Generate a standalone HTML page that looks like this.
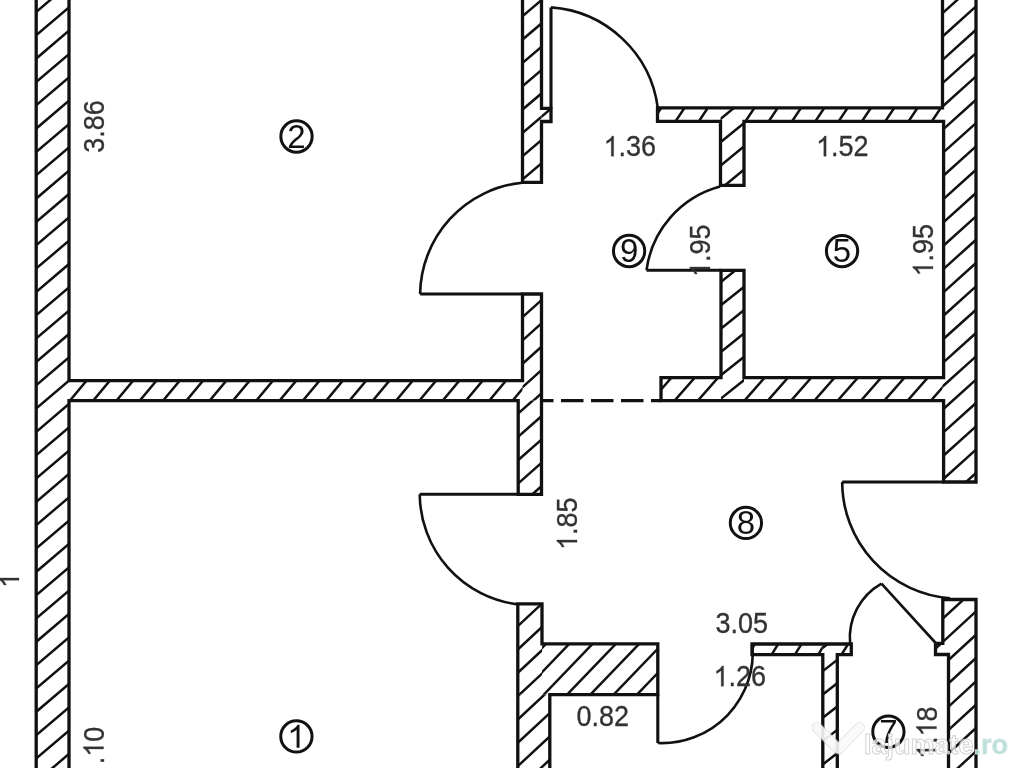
<!DOCTYPE html>
<html><head><meta charset="utf-8">
<style>
html,body{margin:0;padding:0;background:#fff;width:1024px;height:768px;overflow:hidden}
svg{display:block;filter:blur(0.35px)}
text{font-family:"Liberation Sans",sans-serif}
</style></head>
<body>
<svg width="1024" height="768" viewBox="0 0 1024 768">
<defs>
<clipPath id="c1"><rect x="36.2" y="-5" width="32.80" height="778.00"/></clipPath>
<clipPath id="c2"><rect x="69.0" y="380.7" width="453.50" height="19.90"/></clipPath>
<clipPath id="c3"><rect x="522.5" y="294" width="19.00" height="106.60"/></clipPath>
<clipPath id="c4"><rect x="518.2" y="400.6" width="23.30" height="93.70"/></clipPath>
<clipPath id="c5"><rect x="522.5" y="-5" width="19.00" height="187.30"/></clipPath>
<clipPath id="c6"><rect x="541.5" y="108.3" width="9.50" height="13.20"/></clipPath>
<clipPath id="c7"><rect x="657.5" y="107.8" width="63.00" height="13.60"/></clipPath>
<clipPath id="c8"><rect x="744" y="107.8" width="198.50" height="13.60"/></clipPath>
<clipPath id="c9"><rect x="720.5" y="107.8" width="23.50" height="77.50"/></clipPath>
<clipPath id="c10"><rect x="942.5" y="-5" width="33.50" height="487.00"/></clipPath>
<clipPath id="c11"><rect x="721" y="270.3" width="23.00" height="130.30"/></clipPath>
<clipPath id="c12"><rect x="661" y="377.6" width="60.00" height="23.00"/></clipPath>
<clipPath id="c13"><rect x="744" y="377.6" width="198.50" height="23.00"/></clipPath>
<clipPath id="c14"><rect x="517.8" y="603.8" width="24.20" height="90.80"/></clipPath>
<clipPath id="c15"><rect x="542" y="643.8" width="115.80" height="50.80"/></clipPath>
<clipPath id="c16"><rect x="517.8" y="694.6" width="32.00" height="78.40"/></clipPath>
<clipPath id="c17"><rect x="752" y="644" width="70.80" height="10.60"/></clipPath>
<clipPath id="c18"><rect x="837.3" y="644" width="14.00" height="10.60"/></clipPath>
<clipPath id="c19"><rect x="822.8" y="644" width="14.50" height="129.00"/></clipPath>
<clipPath id="c20"><path d="M942.8,599.5 L976,599.5 L976,773 L948.5,773 L948.5,654.5 L935.5,654.5 L935.5,643.3 L942.8,643.3 Z"/></clipPath>
</defs>
<rect width="1024" height="768" fill="#fff"/>
<g>
<path clip-path="url(#c1)" d="M34.20,13.63L71.00,-17.65M34.20,36.95L71.00,5.67M34.20,60.29L71.00,29.01M34.20,83.61L71.00,52.33M34.20,106.94L71.00,75.66M34.20,130.28L71.00,99.00M34.20,153.60L71.00,122.32M34.20,176.94L71.00,145.66M34.20,200.27L71.00,168.99M34.20,223.59L71.00,192.31M34.20,246.93L71.00,215.65M34.20,270.25L71.00,238.97M34.20,293.58L71.00,262.30M34.20,316.92L71.00,285.63M34.20,340.25L71.00,308.96M34.20,363.57L71.00,332.29M34.20,386.90L71.00,355.62M34.20,410.23L71.00,378.95M34.20,433.56L71.00,402.28M34.20,456.89L71.00,425.61M34.20,480.22L71.00,448.94M34.20,503.56L71.00,472.27M34.20,526.88L71.00,495.60M34.20,550.21L71.00,518.93M34.20,573.54L71.00,542.26M34.20,596.87L71.00,565.59M34.20,620.20L71.00,588.92M34.20,643.53L71.00,612.25M34.20,666.86L71.00,635.58M34.20,690.19L71.00,658.91M34.20,713.52L71.00,682.24M34.20,736.85L71.00,705.57M34.20,760.18L71.00,728.90M34.20,783.51L71.00,752.23M34.20,806.84L71.00,775.56" stroke="#111" stroke-width="2.5" fill="none"/>
<path clip-path="url(#c2)" d="M68.24,402.60L88.16,378.70M91.54,402.60L111.46,378.70M114.84,402.60L134.76,378.70M138.14,402.60L158.06,378.70M161.44,402.60L181.36,378.70M184.74,402.60L204.66,378.70M208.04,402.60L227.96,378.70M231.34,402.60L251.26,378.70M254.64,402.60L274.56,378.70M277.94,402.60L297.86,378.70M301.24,402.60L321.16,378.70M324.54,402.60L344.46,378.70M347.84,402.60L367.76,378.70M371.14,402.60L391.06,378.70M394.44,402.60L414.36,378.70M417.74,402.60L437.66,378.70M441.04,402.60L460.96,378.70M464.34,402.60L484.26,378.70M487.64,402.60L507.56,378.70M510.94,402.60L530.86,378.70" stroke="#111" stroke-width="2.5" fill="none"/>
<path clip-path="url(#c3)" d="M520.50,295.61L543.50,274.91M520.50,318.94L543.50,298.24M520.50,342.27L543.50,321.57M520.50,365.60L543.50,344.90M520.50,388.93L543.50,368.23M520.50,412.26L543.50,391.56" stroke="#111" stroke-width="2.5" fill="none"/>
<path clip-path="url(#c4)" d="M516.20,415.14L543.50,391.12M516.20,438.47L543.50,414.45M516.20,461.80L543.50,437.78M516.20,485.13L543.50,461.11M516.20,508.46L543.50,484.44" stroke="#111" stroke-width="2.5" fill="none"/>
<path clip-path="url(#c5)" d="M520.50,-5.38L543.50,-24.93M520.50,17.95L543.50,-1.60M520.50,41.27L543.50,21.73M520.50,64.61L543.50,45.05M520.50,87.94L543.50,68.38M520.50,111.27L543.50,91.71M520.50,134.59L543.50,115.04M520.50,157.92L543.50,138.37M520.50,181.25L543.50,161.70M520.50,204.59L543.50,185.03" stroke="#111" stroke-width="2.5" fill="none"/>
<path clip-path="url(#c6)" d="M539.50,118.44L553.00,106.97" stroke="#111" stroke-width="2.5" fill="none"/>
<path clip-path="url(#c7)" d="M650.87,123.40L662.60,105.80M674.17,123.40L685.90,105.80M697.47,123.40L709.20,105.80M720.77,123.40L732.50,105.80" stroke="#111" stroke-width="2.5" fill="none"/>
<path clip-path="url(#c8)" d="M744.07,123.40L755.80,105.80M767.37,123.40L779.10,105.80M790.67,123.40L802.40,105.80M813.97,123.40L825.70,105.80M837.27,123.40L849.00,105.80M860.57,123.40L872.30,105.80M883.87,123.40L895.60,105.80M907.17,123.40L918.90,105.80M930.47,123.40L942.20,105.80" stroke="#111" stroke-width="2.5" fill="none"/>
<path clip-path="url(#c9)" d="M718.50,120.59L746.00,98.04M718.50,143.92L746.00,121.37M718.50,167.25L746.00,144.70M718.50,190.58L746.00,168.03" stroke="#111" stroke-width="2.5" fill="none"/>
<path clip-path="url(#c10)" d="M940.50,15.03L978.00,-18.72M940.50,38.36L978.00,4.61M940.50,61.69L978.00,27.94M940.50,85.02L978.00,51.27M940.50,108.35L978.00,74.60M940.50,131.68L978.00,97.93M940.50,155.01L978.00,121.26M940.50,178.34L978.00,144.59M940.50,201.67L978.00,167.92M940.50,225.00L978.00,191.25M940.50,248.33L978.00,214.58M940.50,271.66L978.00,237.91M940.50,294.99L978.00,261.24M940.50,318.32L978.00,284.57M940.50,341.65L978.00,307.90M940.50,364.98L978.00,331.23M940.50,388.31L978.00,354.56M940.50,411.64L978.00,377.89M940.50,434.97L978.00,401.22M940.50,458.30L978.00,424.55M940.50,481.63L978.00,447.88M940.50,504.96L978.00,471.21" stroke="#111" stroke-width="2.5" fill="none"/>
<path clip-path="url(#c11)" d="M719.00,283.47L746.00,261.87M719.00,306.80L746.00,285.20M719.00,330.13L746.00,308.53M719.00,353.46L746.00,331.86M719.00,376.79L746.00,355.19M719.00,400.12L746.00,378.52M719.00,423.45L746.00,401.85" stroke="#111" stroke-width="2.5" fill="none"/>
<path clip-path="url(#c12)" d="M649.57,402.60L673.25,375.60M672.87,402.60L696.55,375.60M696.17,402.60L719.85,375.60M719.47,402.60L743.15,375.60" stroke="#111" stroke-width="2.5" fill="none"/>
<path clip-path="url(#c13)" d="M719.47,402.60L743.15,375.60M742.77,402.60L766.45,375.60M766.07,402.60L789.75,375.60M789.37,402.60L813.05,375.60M812.67,402.60L836.35,375.60M835.97,402.60L859.65,375.60M859.27,402.60L882.95,375.60M882.57,402.60L906.25,375.60M905.87,402.60L929.55,375.60M929.17,402.60L952.85,375.60" stroke="#111" stroke-width="2.5" fill="none"/>
<path clip-path="url(#c14)" d="M515.80,604.68L544.00,578.45M515.80,628.01L544.00,601.78M515.80,651.34L544.00,625.11M515.80,674.67L544.00,648.44M515.80,698.00L544.00,671.77M515.80,721.33L544.00,695.10" stroke="#111" stroke-width="2.5" fill="none"/>
<path clip-path="url(#c15)" d="M495.25,696.60L547.95,641.80M518.55,696.60L571.25,641.80M541.85,696.60L594.55,641.80M565.15,696.60L617.85,641.80M588.45,696.60L641.15,641.80M611.75,696.60L664.45,641.80M635.05,696.60L687.75,641.80M658.35,696.60L711.05,641.80" stroke="#111" stroke-width="2.5" fill="none"/>
<path clip-path="url(#c16)" d="M515.80,698.00L551.80,664.52M515.80,721.33L551.80,687.85M515.80,744.66L551.80,711.18M515.80,767.99L551.80,734.51M515.80,791.32L551.80,757.84" stroke="#111" stroke-width="2.5" fill="none"/>
<path clip-path="url(#c17)" d="M747.06,656.60L756.19,642.00M770.36,656.60L779.49,642.00M793.66,656.60L802.79,642.00M816.96,656.60L826.09,642.00" stroke="#111" stroke-width="2.5" fill="none"/>
<path clip-path="url(#c18)" d="M840.26,656.60L849.39,642.00" stroke="#111" stroke-width="2.5" fill="none"/>
<path clip-path="url(#c19)" d="M820.80,649.35L839.30,634.92M820.80,672.68L839.30,658.25M820.80,696.01L839.30,681.58M820.80,719.34L839.30,704.91M820.80,742.67L839.30,728.24M820.80,766.00L839.30,751.57M820.80,789.33L839.30,774.90" stroke="#111" stroke-width="2.5" fill="none"/>
<path clip-path="url(#c20)" d="M933.00,604.28L978.00,562.88M933.00,627.61L978.00,586.21M933.00,650.94L978.00,609.54M933.00,674.27L978.00,632.87M933.00,697.60L978.00,656.20M933.00,720.93L978.00,679.53M933.00,744.26L978.00,702.86M933.00,767.59L978.00,726.19M933.00,790.92L978.00,749.52M933.00,814.25L978.00,772.85" stroke="#111" stroke-width="2.5" fill="none"/>
</g>
<g fill="none" stroke="#111" stroke-width="3.3" stroke-linejoin="miter" stroke-linecap="square">
<path d="M36.2,-5 L36.2,773 M69.0,-5 L69.0,380.7 L522.5,380.7 L522.5,294 L541.5,294 L541.5,494.3 L518.2,494.3 L518.2,400.6 L69.0,400.6 L69.0,773"/>
<path d="M522.5,-5 L522.5,182.3 L541.5,182.3 L541.5,121.5 L551,121.5 L551,108.3 L541.5,108.3 L541.5,-5"/>
<path d="M942.5,-5 L942.5,107.8 L657.5,107.8 L657.5,121.4 L720.5,121.4 L720.5,185.3 L744,185.3 L744,121.4 L943.6,121.4 L943.6,377.6 L744,377.6 L744,270.3 L721,270.3 L721,377.6 L661,377.6 L661,400.6 L943.6,400.6 L943.6,482 L976,482 L976,-5"/>
<path d="M517.8,773 L517.8,603.8 L542,603.8 L542,643.8 L657.8,643.8 L657.8,694.6 L549.8,694.6 L549.8,773"/>
<path d="M822.8,773 L822.8,654.6 L752,654.6 L752,644 L851.3,644 L851.3,654.6 L837.3,654.6 L837.3,773"/>
<path d="M942.8,599.5 L976,599.5 L976,773 M948.5,773 L948.5,654.5 L935.5,654.5 L935.5,643.3 L942.8,643.3 L942.8,599.5"/>
</g>
<g fill="none" stroke="#111" stroke-width="3.1">
<path d="M551,7.4 L551,108.3"/>
<path d="M551.0,7.4 A115.9,115.9 0 0 1 657.8,108.0" stroke-width="2.6"/>
<path d="M420.1,294 L522.5,294"/>
<path d="M420.1,294.0 A113.6,113.6 0 0 1 522.1,182.7" stroke-width="2.6"/>
<path d="M646.5,270.3 L721,270.3"/>
<path d="M646.5,270.1 A100.5,100.5 0 0 1 720.1,186.5" stroke-width="2.6"/>
<path d="M419.7,494.3 L518.2,494.3"/>
<path d="M419.7,494.3 A111.8,111.8 0 0 0 518.0,604.4" stroke-width="2.6"/>
<path d="M842.2,482 L943.6,482"/>
<path d="M842.2,482.0 A116.7,116.7 0 0 0 950.0,598.2" stroke-width="2.6"/>
<path d="M937.5,645 L881.5,583.6 " stroke-width="2.6"/>
<path d="M881.5,583.6 A62.0,62.0 0 0 0 850.1,643.5" stroke-width="2.6"/>
<path d="M657.8,694.6 L657.8,743"/>
<path d="M657.8,743.0 A90.7,90.7 0 0 0 752.4,644.0" stroke-width="2.6"/>
<path d="M541.5,400.6 L661,400.6" stroke-width="3.3" stroke-dasharray="22.5 7.5" stroke-dashoffset="10.5"/>
</g>
<g fill="none" stroke="#111" stroke-width="3.0">
<circle cx="296.5" cy="136.5" r="15.65"/>
<circle cx="629.1" cy="251" r="15.65"/>
<circle cx="842.05" cy="251.05" r="15.65"/>
<circle cx="745.9" cy="522.9" r="15.65"/>
<circle cx="296.4" cy="736.4" r="15.65"/>
<circle cx="888.4" cy="731.75" r="15.65"/>
</g>
<g fill="#111" font-size="33">
<g transform="translate(287.32,147.90)"><text x="0.00" y="0">2</text></g>
<g transform="translate(619.92,262.40)"><text x="0.00" y="0">9</text></g>
<g transform="translate(832.87,262.45)"><text x="0.00" y="0">5</text></g>
<g transform="translate(736.72,534.30)"><text x="0.00" y="0">8</text></g>
<g transform="translate(287.22,747.80)"><path d="M763 0H583V1147Q518 1085 412.5 1023Q307 961 223 930V1104Q374 1175 487 1276Q600 1377 647 1472H763Z" vector-effect="non-scaling-stroke" transform="translate(0.00,0) scale(0.01611,-0.01566)"/></g>
<g transform="translate(879.22,743.15)"><text x="0.00" y="0">7</text></g>
</g>
<g fill="#333" stroke="#333" stroke-width="0.3" font-size="27">
<g transform="translate(603.6,156.2) scale(1,1.07)"><path d="M763 0H583V1147Q518 1085 412.5 1023Q307 961 223 930V1104Q374 1175 487 1276Q600 1377 647 1472H763Z" vector-effect="non-scaling-stroke" transform="translate(0.00,0) scale(0.01318,-0.01281)"/><text x="15.02" y="0">.</text><text x="22.52" y="0">3</text><text x="37.53" y="0">6</text></g>
<g transform="translate(816.1,156.2) scale(1,1.07)"><path d="M763 0H583V1147Q518 1085 412.5 1023Q307 961 223 930V1104Q374 1175 487 1276Q600 1377 647 1472H763Z" vector-effect="non-scaling-stroke" transform="translate(0.00,0) scale(0.01318,-0.01281)"/><text x="15.02" y="0">.</text><text x="22.52" y="0">5</text><text x="37.53" y="0">2</text></g>
<g transform="translate(715.5,632.7) scale(1,1.07)"><text x="0.00" y="0">3</text><text x="15.02" y="0">.</text><text x="22.52" y="0">0</text><text x="37.53" y="0">5</text></g>
<g transform="translate(713.5,686.2) scale(1,1.07)"><path d="M763 0H583V1147Q518 1085 412.5 1023Q307 961 223 930V1104Q374 1175 487 1276Q600 1377 647 1472H763Z" vector-effect="non-scaling-stroke" transform="translate(0.00,0) scale(0.01318,-0.01281)"/><text x="15.02" y="0">.</text><text x="22.52" y="0">2</text><text x="37.53" y="0">6</text></g>
<g transform="translate(576.5,725.8) scale(1,1.07)"><text x="0.00" y="0">0</text><text x="15.02" y="0">.</text><text x="22.52" y="0">8</text><text x="37.53" y="0">2</text></g>
<g transform="translate(933,276.5) rotate(-90) scale(1,1.07)"><path d="M763 0H583V1147Q518 1085 412.5 1023Q307 961 223 930V1104Q374 1175 487 1276Q600 1377 647 1472H763Z" vector-effect="non-scaling-stroke" transform="translate(0.00,0) scale(0.01318,-0.01281)"/><text x="15.02" y="0">.</text><text x="22.52" y="0">9</text><text x="37.53" y="0">5</text></g>
<g transform="translate(710,277) rotate(-90) scale(1,1.07)"><path d="M763 0H583V1147Q518 1085 412.5 1023Q307 961 223 930V1104Q374 1175 487 1276Q600 1377 647 1472H763Z" vector-effect="non-scaling-stroke" transform="translate(0.00,0) scale(0.01318,-0.01281)"/><text x="15.02" y="0">.</text><text x="22.52" y="0">9</text><text x="37.53" y="0">5</text></g>
<g transform="translate(103.5,152.8) rotate(-90) scale(1,1.07)"><text x="0.00" y="0">3</text><text x="15.02" y="0">.</text><text x="22.52" y="0">8</text><text x="37.53" y="0">6</text></g>
<g transform="translate(577,550) rotate(-90) scale(1,1.07)"><path d="M763 0H583V1147Q518 1085 412.5 1023Q307 961 223 930V1104Q374 1175 487 1276Q600 1377 647 1472H763Z" vector-effect="non-scaling-stroke" transform="translate(0.00,0) scale(0.01318,-0.01281)"/><text x="15.02" y="0">.</text><text x="22.52" y="0">8</text><text x="37.53" y="0">5</text></g>
<g transform="translate(103.5,764.2) rotate(-90) scale(1,1.07)"><text x="0.00" y="0">.</text><path d="M763 0H583V1147Q518 1085 412.5 1023Q307 961 223 930V1104Q374 1175 487 1276Q600 1377 647 1472H763Z" vector-effect="non-scaling-stroke" transform="translate(7.50,0) scale(0.01318,-0.01281)"/><text x="22.52" y="0">0</text></g>
<g transform="translate(936.5,759) rotate(-90) scale(1,1.07)"><path d="M763 0H583V1147Q518 1085 412.5 1023Q307 961 223 930V1104Q374 1175 487 1276Q600 1377 647 1472H763Z" vector-effect="non-scaling-stroke" transform="translate(0.00,0) scale(0.01318,-0.01281)"/><text x="15.02" y="0">.</text><path d="M763 0H583V1147Q518 1085 412.5 1023Q307 961 223 930V1104Q374 1175 487 1276Q600 1377 647 1472H763Z" vector-effect="non-scaling-stroke" transform="translate(22.52,0) scale(0.01318,-0.01281)"/><text x="37.53" y="0">8</text></g>
<g transform="translate(19,588) rotate(-90) scale(1,1.07)"><path d="M763 0H583V1147Q518 1085 412.5 1023Q307 961 223 930V1104Q374 1175 487 1276Q600 1377 647 1472H763Z" vector-effect="non-scaling-stroke" transform="translate(0.00,0) scale(0.01318,-0.01281)"/></g>
</g>
<g>
<path d="M817,727.5 L838.5,749 L859.5,727.5" fill="none" stroke="#c8c8c8" stroke-width="11" stroke-linecap="round" stroke-linejoin="round" opacity="0.55"/>
<path d="M817,727.5 L838.5,749 L859.5,727.5" fill="none" stroke="#fff" stroke-width="9.4" stroke-linecap="round" stroke-linejoin="round" opacity="0.8"/>
<text x="864" y="753.6" font-weight="bold" font-size="27" fill="#fff" fill-opacity="0.72" stroke="#c8c8c8" stroke-opacity="0.8" stroke-width="1">lajumate<tspan fill="#b4ddd5" fill-opacity="0.9" stroke="#cfe8e3">.ro</tspan></text>
</g>
</svg>
</body></html>
